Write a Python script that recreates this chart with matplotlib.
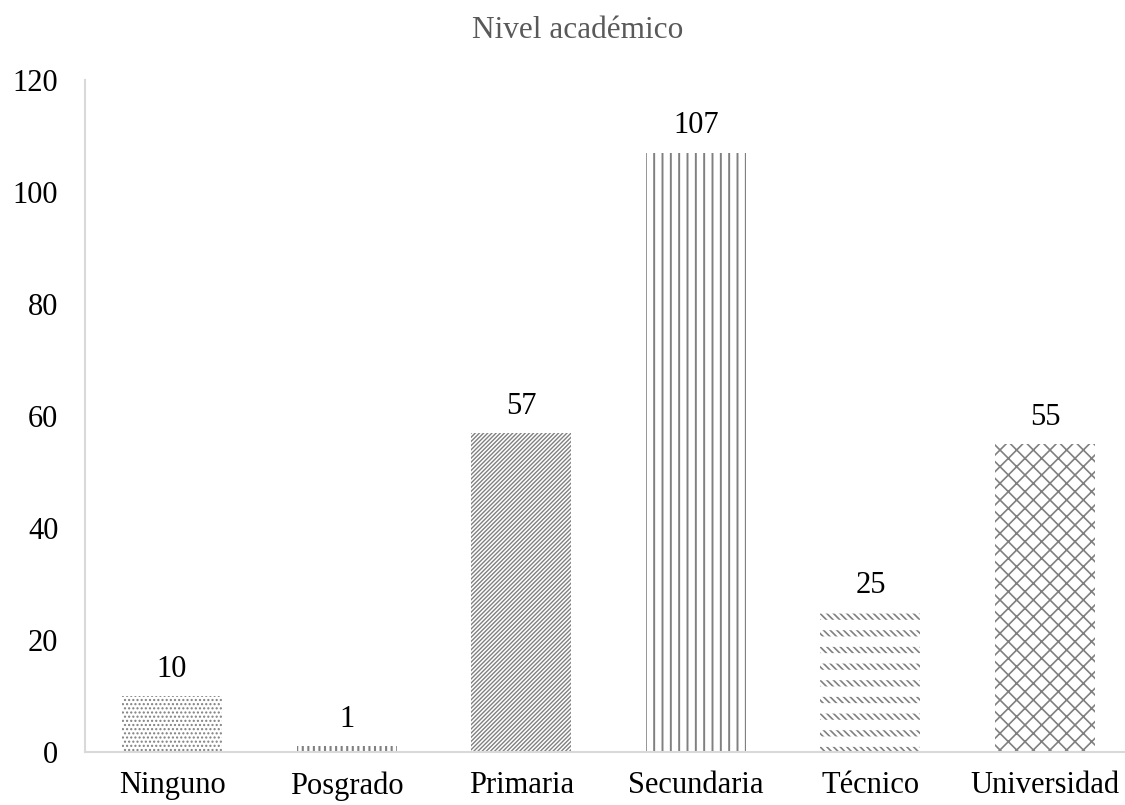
import numpy as np
import matplotlib.pyplot as plt

categories = ['Ninguno', 'Posgrado', 'Primaria', 'Secundaria', 'Técnico', 'Universidad']
counts = [10, 1, 57, 107, 25, 55]
hatches = ['....', '|||', '////////', '||', '\\\\\\\\\\', 'xx']
hatch_widths = [1.0, 1.5, 1.0, 1.4, 1.2, 1.2]

plt.rcParams['font.family'] = ['Liberation Serif', 'DejaVu Serif']
plt.rcParams['hatch.color'] = '#808080'

fig = plt.figure(figsize=(11.25, 8.05), dpi=100)
ax = fig.add_axes([0.0753, 0.0658, 0.9312, 0.8348])

x = np.arange(len(categories))
for i, (c, h) in enumerate(zip(counts, hatches)):
    plt.rcParams['hatch.linewidth'] = hatch_widths[i]
    ax.bar(x[i], c, width=0.573, facecolor='white', edgecolor='#808080',
           linewidth=0, hatch=h)
    ax.text(x[i], c + 2.2, str(c), ha='center', va='bottom', fontsize=22)

# gaps between the dashed rows of the Técnico bar
plt.rcParams['hatch.linewidth'] = 7.5
ax.bar(x[4], counts[4], width=0.573, facecolor='none', edgecolor='white',
       linewidth=0, hatch='-')

ax.set_xlim(-0.5, 5.5)
ax.set_ylim(0, 120)
ax.set_yticks(np.arange(0, 121, 20))
ax.set_xticks(x)
ax.set_xticklabels(categories)
ax.tick_params(axis='both', length=0, labelsize=22)
ax.tick_params(axis='y', pad=19)
ax.tick_params(axis='x', pad=14)

for s in ['top', 'right']:
    ax.spines[s].set_visible(False)
for s in ['left', 'bottom']:
    ax.spines[s].set_color('#d9d9d9')
    ax.spines[s].set_linewidth(1.5)

fig.text(0.513, 0.9528, 'Nivel académico', ha='center', va='baseline',
         fontsize=22.5, color='#595959')

fig.savefig('out.png', dpi=100)
